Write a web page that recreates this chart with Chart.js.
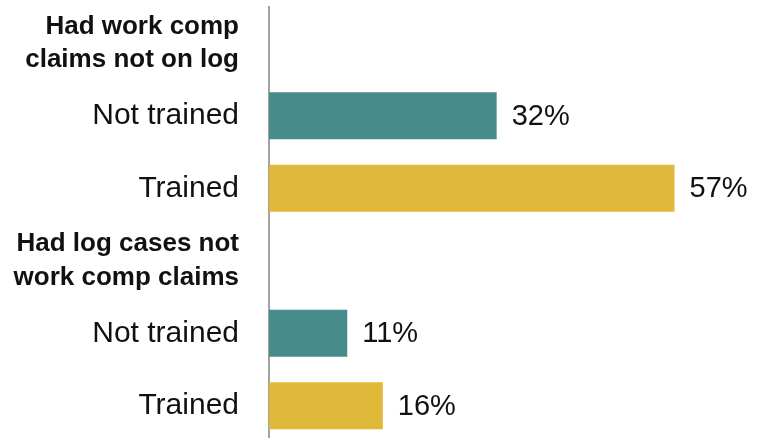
<!DOCTYPE html>
<html>
<head>
<meta charset="utf-8">
<script src="https://cdn.jsdelivr.net/npm/chart.js@4"></script>
<style>
  html, body { margin: 0; padding: 0; background: #fff; overflow: hidden; }
  canvas { display: block; }
</style>
</head>
<body>
<canvas id="canvass" width="767" height="442"></canvas>
<script>
// categories (headers are empty rows)
var categories = [
    ['Had work comp', 'claims not on log'],
    'Not trained',
    'Trained',
    ['Had log cases not', 'work comp claims'],
    'Not trained',
    'Trained'
];
var isHeader = [true, false, false, true, false, false];
var values = [null, 32, 57, null, 11, 16];
var barColors = ['#478b8a', '#478b8a', '#e0b93a', '#478b8a', '#478b8a', '#e0b93a'];

// draw the % numbers just past each bar
var valueLabels = {
    id: 'valueLabels',
    afterDatasetsDraw: function (chart) {
        var ctx = chart.ctx;
        var meta = chart.getDatasetMeta(0);
        ctx.save();
        ctx.font = '29px "Liberation Sans", Arial, sans-serif';
        ctx.fillStyle = '#111';
        ctx.textAlign = 'left';
        ctx.textBaseline = 'middle';
        meta.data.forEach(function (bar, i) {
            if (values[i] == null) return;
            ctx.fillText(values[i] + '%', bar.x + 15, bar.y + 1);
        });
        ctx.restore();
    }
};

var ctx = document.getElementById('canvass').getContext('2d');
var myBarChart = new Chart(ctx, {
    type: 'bar',
    data: {
        labels: categories,
        datasets: [{
            data: values,
            backgroundColor: barColors,
            borderWidth: 0,
            barPercentage: 0.65,
            categoryPercentage: 1
        }]
    },
    options: {
        indexAxis: 'y',
        responsive: false,
        animation: false,
        layout: { padding: { top: 7, right: 0, bottom: 0, left: 0 } },
        plugins: {
            legend: { display: false },
            tooltip: { enabled: false }
        },
        scales: {
            x: {
                display: false,
                min: 0,
                max: 70
            },
            y: {
                afterFit: function (scale) {
                    scale.width = 269;
                    scale.paddingTop = 0;
                    scale.paddingBottom = 0;
                },
                grid: { display: false, drawTicks: false },
                border: { display: true, color: '#a3a3a3', width: 2 },
                ticks: {
                    padding: 30,
                    color: '#111',
                    autoSkip: false,
                    font: function (c) {
                        if (isHeader[c.index]) {
                            return { family: '"Liberation Sans", Arial, sans-serif', size: 26, weight: 'bold', lineHeight: 1.3 };
                        }
                        return { family: '"Liberation Sans", Arial, sans-serif', size: 30 };
                    }
                }
            }
        }
    },
    plugins: [valueLabels]
});
</script>
</body>
</html>
